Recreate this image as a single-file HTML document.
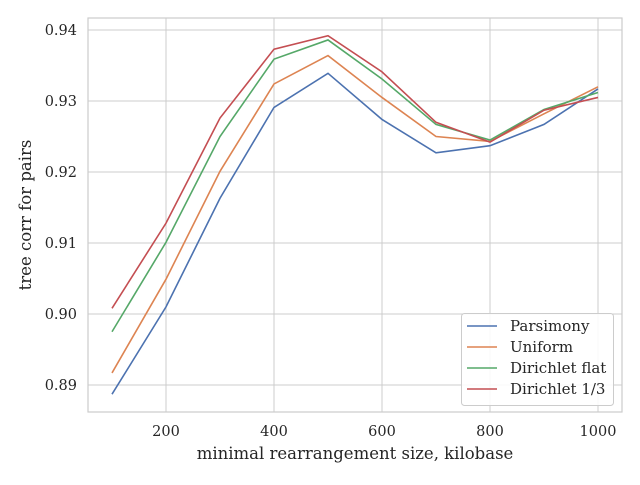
<!DOCTYPE html>
<html><head><meta charset="utf-8"><style>
body{margin:0;background:#fff;}
svg{font-family:"DejaVu Serif","Liberation Serif",serif;}
</style></head><body>
<svg id="chart" width="640" height="480" xmlns="http://www.w3.org/2000/svg"></svg>
<script>
const categories=[100,200,300,400,500,600,700,800,900,1000];
const parsimony=[0.8887,0.9010,0.9163,0.9291,0.9339,0.9274,0.9227,0.9237,0.9267,0.9317];
const uniform=[0.8917,0.9049,0.9201,0.9324,0.9364,0.9305,0.9250,0.9243,0.9282,0.9320];
const dirichletFlat=[0.8975,0.9101,0.9250,0.9359,0.9386,0.9331,0.9267,0.9245,0.9288,0.9312];
const dirichletThird=[0.9008,0.9128,0.9276,0.9373,0.9392,0.9341,0.9270,0.9242,0.9287,0.9305];
const seriesNames=["Parsimony","Uniform","Dirichlet flat","Dirichlet 1/3"];
const xTicks=[200,400,600,800,1000];
const yTicks=[0.89,0.90,0.91,0.92,0.93,0.94];
const yTickLabels=["0.89","0.90","0.91","0.92","0.93","0.94"];

const svg=document.getElementById('chart');
const NS='http://www.w3.org/2000/svg';
const L=88,R=622,T=18,B=412;
const x=v=>112+(v-100)*0.54;
const y=v=>30+(0.94-v)*7100;
function mk(tag,attrs,parent){const e=document.createElementNS(NS,tag);for(const k in attrs)e.setAttribute(k,attrs[k]);(parent||svg).appendChild(e);return e;}
const grid=mk('g',{});


xTicks.forEach(t=>{mk('line',{x1:x(t),x2:x(t),y1:T,y2:B,stroke:'#cccccc','stroke-width':1},grid);});
yTicks.forEach(t=>{mk('line',{x1:L,x2:R,y1:y(t),y2:y(t),stroke:'#cccccc','stroke-width':1},grid);});
const frame=mk('rect',{x:L,y:T,width:R-L,height:B-T,fill:'none',stroke:'#cccccc','stroke-width':1.2});


xTicks.forEach(t=>{const e=mk('text',{x:x(t),y:436,'text-anchor':'middle','font-size':14.5,fill:'#262626'});e.textContent=t;

});
yTicks.forEach((t,i)=>{const e=mk('text',{x:77,y:y(t)+5,'text-anchor':'end','font-size':14.5,fill:'#262626'});e.textContent=yTickLabels[i];

});
const xt=mk('text',{x:355,y:459,'text-anchor':'middle','font-size':16.5,fill:'#262626'});xt.textContent='minimal rearrangement size, kilobase';


const yt=mk('text',{x:31,y:215,'text-anchor':'middle','font-size':16.5,fill:'#262626',transform:'rotate(-90 31 215)'});yt.textContent='tree corr for pairs';


const colors=['#4c72b0','#dd8452','#55a868','#c44e52'];
const data=[parsimony,uniform,dirichletFlat,dirichletThird];
const slugs=['parsimony','uniform','dirichlet-flat','dirichlet-third'];
data.forEach((s,i)=>{const p=mk('polyline',{points:s.map((v,j)=>x(categories[j])+','+y(v)).join(' '),fill:'none',stroke:colors[i],'stroke-width':1.6});

});
const lg=mk('g',{});


mk('rect',{x:461.5,y:313.5,width:152,height:92,rx:3,fill:'#fff','fill-opacity':0.85,stroke:'#cccccc'},lg);
seriesNames.forEach((n,i)=>{const yy=326+i*21;
mk('line',{x1:467,x2:497,y1:yy,y2:yy,stroke:colors[i],'stroke-width':1.6},lg);
const e=mk('text',{x:510,y:yy+5,'font-size':15,fill:'#262626'},lg);e.textContent=n;

});
</script>
</body></html>
